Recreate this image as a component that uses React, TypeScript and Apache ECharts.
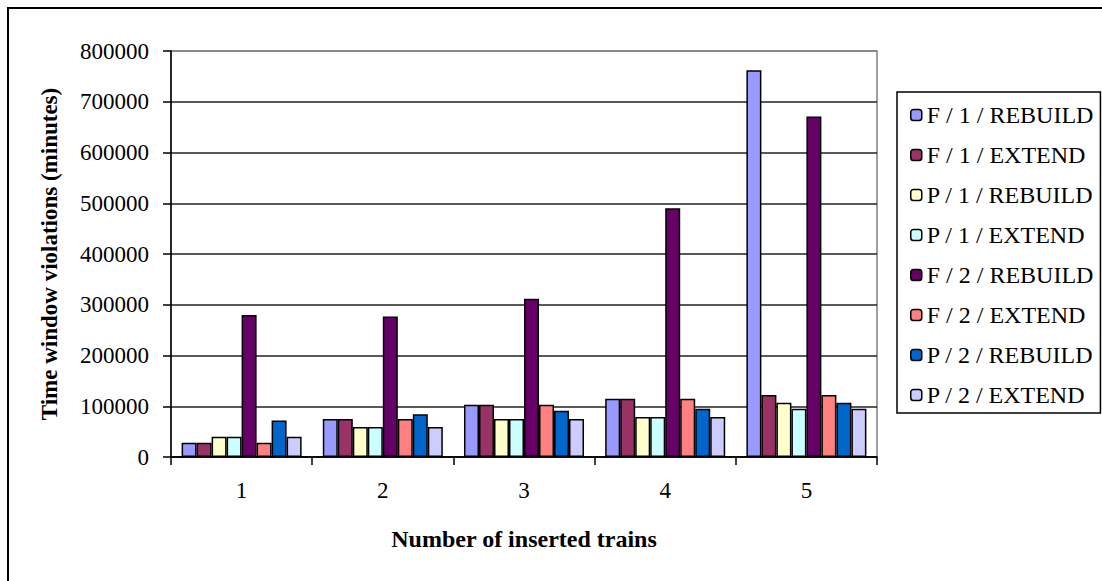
import React, { useEffect, useRef } from "react";
import * as echarts from "echarts";

const categories = ["1", "2", "3", "4", "5"];
const seriesNames = [
  "F / 1 / REBUILD",
  "F / 1 / EXTEND",
  "P / 1 / REBUILD",
  "P / 1 / EXTEND",
  "F / 2 / REBUILD",
  "F / 2 / EXTEND",
  "P / 2 / REBUILD",
  "P / 2 / EXTEND",
];
const f1Rebuild = [28000, 75000, 103000, 115000, 762000];
const f1Extend = [28000, 75000, 103000, 115000, 122000];
const p1Rebuild = [40000, 59000, 75000, 79000, 107000];
const p1Extend = [40000, 59000, 75000, 79000, 95000];
const f2Rebuild = [280000, 277000, 312000, 490000, 671000];
const f2Extend = [28000, 75000, 103000, 115000, 122000];
const p2Rebuild = [72000, 84000, 91000, 95000, 107000];
const p2Extend = [40000, 59000, 75000, 79000, 95000];
const seriesColors = ["#9999FF", "#993366", "#FFFFCC", "#CCFFFF", "#660066", "#FF8080", "#0066CC", "#CCCCFF"];

const allValues = [f1Rebuild, f1Extend, p1Rebuild, p1Extend, f2Rebuild, f2Extend, p2Rebuild, p2Extend];

const FONT = "'Liberation Serif', 'Times New Roman', serif";

export default function App() {
  const ref = useRef<HTMLDivElement>(null);
  useEffect(() => {
    if (!ref.current) return;
    const chart = echarts.init(ref.current, null, { renderer: "svg" });
    chart.setOption({
      animation: false,
      backgroundColor: "#ffffff",
      textStyle: { fontFamily: FONT, color: "#000" },
      graphic: [
        {
          type: "rect",
          shape: { x: 8, y: 8, width: 1300, height: 800 },
          style: { fill: "none", stroke: "#000", lineWidth: 2 },
          silent: true,
        },
      ],
      grid: {
        left: 171,
        right: 225,
        top: 51,
        bottom: 124,
        show: true,
        borderColor: "#808080",
        borderWidth: 1.5,
        backgroundColor: "transparent",
      },
      legend: {
        orient: "vertical",
        left: 897,
        top: 92,
        data: seriesNames,
        backgroundColor: "#fff",
        borderColor: "#000",
        borderWidth: 1.5,
        padding: [11, 7, 6, 13],
        itemWidth: 11,
        itemHeight: 11,
        itemGap: 16,
        itemTextGap: 7,
        itemStyle: { borderColor: "#000", borderWidth: 1.5 },
        textStyle: { fontFamily: FONT, fontSize: 24, lineHeight: 24, color: "#000" },
      },
      xAxis: {
        type: "category",
        data: categories,
        name: "Number of inserted trains",
        nameLocation: "middle",
        nameGap: 70,
        nameTextStyle: { fontFamily: FONT, fontSize: 24, fontWeight: "bold", color: "#000" },
        axisLine: { lineStyle: { color: "#000", width: 1.5 } },
        axisTick: { show: true, alignWithLabel: false, length: 8, lineStyle: { color: "#000", width: 1.5 } },
        axisLabel: { fontFamily: FONT, fontSize: 23, color: "#000", margin: 22 },
        splitLine: { show: false },
      },
      yAxis: {
        type: "value",
        min: 0,
        max: 800000,
        interval: 100000,
        name: "Time window violations (minutes)",
        nameLocation: "middle",
        nameGap: 110,
        nameTextStyle: { fontFamily: FONT, fontSize: 23, fontWeight: "bold", color: "#000" },
        axisLine: { show: true, lineStyle: { color: "#000", width: 1.5 } },
        axisTick: { show: true, length: 8, lineStyle: { color: "#000", width: 1.5 } },
        axisLabel: {
          fontFamily: FONT,
          fontSize: 23,
          color: "#000",
          margin: 22,
          formatter: (v: number) => String(v),
        },
        splitLine: {
          show: true,
          lineStyle: {
            color: ["#000", "#222", "#222", "#222", "#222", "#222", "#222", "#222", "#808080"],
            width: 1.5,
          },
        },
      },
      series: seriesNames.map((name, i) => ({
        name,
        type: "bar",
        data: allValues[i],
        barGap: "0%",
        barCategoryGap: "15%",
        itemStyle: { color: seriesColors[i], borderColor: "#000", borderWidth: 1.5 },
      })),
    });
    return () => chart.dispose();
  }, []);
  return (
    <div
      ref={ref}
      style={{ position: "fixed", left: 0, top: 0, width: 1102, height: 581, background: "#fff" }}
    />
  );
}
